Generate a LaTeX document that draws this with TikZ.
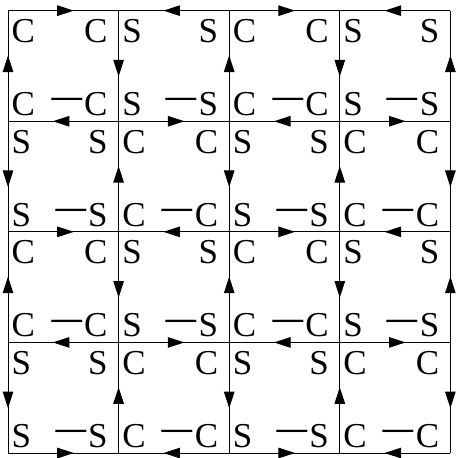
\documentclass[tikz,border=0pt]{standalone}
\usepackage{fontspec}
\setmainfont{Liberation Serif}
\usetikzlibrary{arrows.meta,decorations.markings}

\tikzset{
  flow/.style={line width=0.5pt, postaction={decorate},
    decoration={markings, mark=at position 0.5 with
      {\arrow[xshift=0.19cm]{Triangle[length=0.3cm,width=0.19cm]}}}},
  lbl/.style={inner sep=0pt, font=\fontsize{18}{18}\selectfont},
}
\newcommand{\neglbl}[1]{\raisebox{0.02em}{\scalebox{1.9}[1.3]{−}}\kern-0.04em#1}

\begin{document}
\begin{tikzpicture}
    \useasboundingbox (-0.145,-0.09) rectangle (8.127,8.193);

    % grid points
    \foreach \k in {0,...,4}
      \foreach \j in {0,...,4}
        \coordinate (v-\k-\j) at (2*\k, 8-2*\j);

    % horizontal edges
    \foreach \i in {0,...,3}
      \foreach \j in {0,...,4} {
        \pgfmathtruncatemacro{\nx}{\i+1}
        \pgfmathtruncatemacro{\dir}{mod(\i+\j,2)}
        \ifnum\dir=0
          \draw[flow] (v-\i-\j) -- (v-\nx-\j);
        \else
          \draw[flow] (v-\nx-\j) -- (v-\i-\j);
        \fi
      }

    % vertical edges
    \foreach \k in {0,...,4}
      \foreach \r in {0,...,3} {
        \pgfmathtruncatemacro{\nx}{\r+1}
        \pgfmathtruncatemacro{\dir}{mod(\k+\r,2)}
        \ifnum\dir=0
          \draw[flow] (v-\k-\nx) -- (v-\k-\r);
        \else
          \draw[flow] (v-\k-\r) -- (v-\k-\nx);
        \fi
      }

    % cell labels
    \foreach \r in {0,...,3}
      \foreach \c in {0,...,3} {
        \pgfmathtruncatemacro{\kind}{mod(\r+\c,2)}
        \ifnum\kind=0 \def\ltr{C}\else \def\ltr{S}\fi
        \node[lbl, anchor=base west] (tl-\c-\r) at (2*\c+0.06, 8-2*\r-0.578) {\ltr};
        \node[lbl, anchor=base east] (tr-\c-\r) at (2*\c+1.807, 8-2*\r-0.578) {\ltr};
        \node[lbl, anchor=base west] (bl-\c-\r) at (2*\c+0.06, 6-2*\r+0.103) {\ltr};
        \node[lbl, anchor=base east] (br-\c-\r) at (2*\c+1.807, 6-2*\r+0.103) {\neglbl{\ltr}};
      }
  \end{tikzpicture}
\end{document}
